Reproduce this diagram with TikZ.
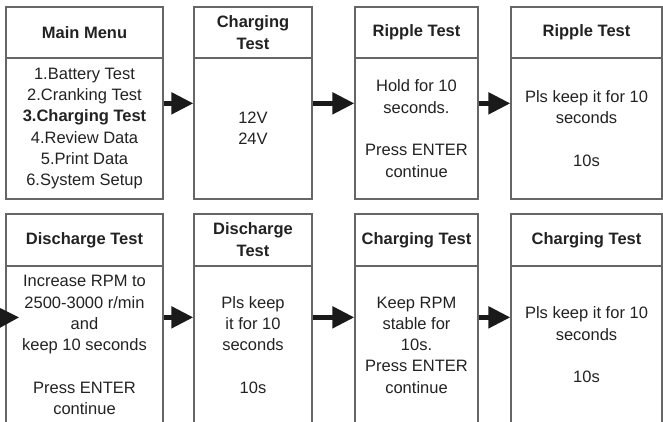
\documentclass[tikz,border=0pt]{standalone}
\usepackage{fontspec}
\setmainfont{Liberation Sans}
\usetikzlibrary{arrows.meta}

\definecolor{boxgray}{HTML}{666666}
\definecolor{ink}{HTML}{222222}
\definecolor{arrowink}{HTML}{1A1A1A}

\begin{document}
\begin{tikzpicture}[x = 1pt, y = -1pt]
	\tikzstyle{headStyle} = [draw = boxgray, line width = 1.3pt, inner sep = 0pt, align = center, text = ink, font = \bfseries\fontsize{16.5}{22}\selectfont]
	\tikzstyle{bodyStyle} = [draw = boxgray, line width = 1.3pt, inner sep = 0pt, align = center, text = ink, font = \fontsize{16.5}{21.3}\selectfont]
	\tikzstyle{arrowStyle} = [draw = arrowink, line width = 5pt, -{Triangle[length = 22pt, width = 21pt]}]
	\useasboundingbox (0,0) rectangle (663,421);
	\clip (0,0) rectangle (663,421);
	% top row
	\node[headStyle, minimum width = 157pt, minimum height = 51pt] (mh) at (84.5,32.5) {Main Menu};
	\node[bodyStyle, minimum width = 157pt, minimum height = 141pt] (mb) at (84.5,128.5) {1.Battery Test\\2.Cranking Test\\\textbf{3.Charging Test}\\4.Review Data\\5.Print Data\\6.System Setup};
	\node[headStyle, minimum width = 118pt, minimum height = 51pt] (ch) at (253,32.5) {Charging\\Test};
	\node[bodyStyle, minimum width = 118pt, minimum height = 141pt] (cb) at (253,128.5) {12V\\24V};
	\node[headStyle, minimum width = 123pt, minimum height = 51pt] (rh) at (416.5,32.5) {Ripple Test};
	\node[bodyStyle, minimum width = 123pt, minimum height = 141pt] (rb) at (416.5,128.5) {Hold for 10\\seconds.\\[21.3pt]Press ENTER\\continue};
	\node[headStyle, minimum width = 151pt, minimum height = 51pt] (kh) at (586.5,32.5) {Ripple Test};
	\node[bodyStyle, minimum width = 151pt, minimum height = 141pt] (kb) at (586.5,128.5) {Pls keep it for 10\\seconds\\[21.3pt]10s};
	% bottom row
	\node[headStyle, minimum width = 157pt, minimum height = 52pt] (dh) at (84.5,240) {Discharge Test};
	\node[bodyStyle, minimum width = 157pt, minimum height = 158pt] (db) at (84.5,345) {Increase RPM to\\2500-3000 r/min\\and\\keep 10 seconds\\[21.3pt]Press ENTER\\continue};
	\node[headStyle, minimum width = 118pt, minimum height = 52pt] (eh) at (253,240) {Discharge\\Test};
	\node[bodyStyle, minimum width = 118pt, minimum height = 158pt] (eb) at (253,345) {Pls keep\\it for 10\\seconds\\[21.3pt]10s};
	\node[headStyle, minimum width = 123pt, minimum height = 52pt] (sh) at (416.5,240) {Charging Test};
	\node[bodyStyle, minimum width = 123pt, minimum height = 158pt] (sb) at (416.5,345) {Keep RPM\\stable for\\10s.\\Press ENTER\\continue};
	\node[headStyle, minimum width = 151pt, minimum height = 52pt] (th) at (586.5,240) {Charging Test};
	\node[bodyStyle, minimum width = 151pt, minimum height = 158pt] (tb) at (586.5,345) {Pls keep it for 10\\seconds\\[21.3pt]10s};
	% arrows
	\draw[arrowStyle] ([yshift = -46pt]mb.north east) -- ([yshift = -46pt]cb.north west);
	\draw[arrowStyle] ([yshift = -46pt]cb.north east) -- ([yshift = -46pt]rb.north west);
	\draw[arrowStyle] ([yshift = -46pt]rb.north east) -- ([yshift = -46pt]kb.north west);
	\coordinate (in) at (-10,318);
	\draw[arrowStyle] (in) -- ([xshift = 14pt, yshift = -52pt]db.north west);
	\draw[arrowStyle] ([yshift = -52pt]db.north east) -- ([yshift = -52pt]eb.north west);
	\draw[arrowStyle] ([yshift = -52pt]eb.north east) -- ([yshift = -52pt]sb.north west);
	\draw[arrowStyle] ([yshift = -52pt]sb.north east) -- ([yshift = -52pt]tb.north west);
\end{tikzpicture}
\end{document}
